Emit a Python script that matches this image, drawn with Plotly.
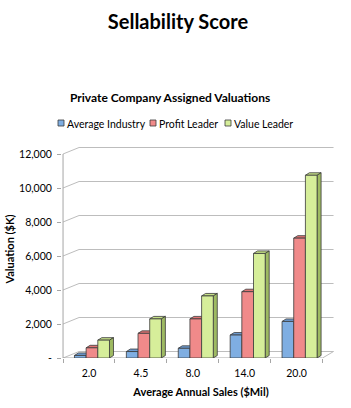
import plotly.graph_objects as go

# ---------------- data ----------------
categories = ["2.0", "4.5", "8.0", "14.0", "20.0"]
average_industry = [150, 380, 570, 1350, 2150]
profit_leader = [600, 1450, 2300, 3900, 7050]
value_leader = [1050, 2300, 3650, 6150, 10750]
y_tick_values = [0, 2000, 4000, 6000, 8000, 10000, 12000]
y_tick_labels = ["-", "2,000", "4,000", "6,000", "8,000", "10,000", "12,000"]
series_names = ["Average Industry", "Profit Leader", "Value Leader"]

# ---------------- styles ----------------
FONT = "Lato"
front_colors = ["#7FAEE2", "#F08A8A", "#D6EE9A"]
top_colors = ["#6E9DD3", "#E07474", "#C4DE86"]
side_colors = ["#5580B8", "#C45A5A", "#9EBA62"]
OUTLINE = "#3A3A3A"
GRID = "#BDBDBD"

W, H = 351, 408
M_L, M_R, M_T, M_B = 62, 11, 140, 50
plot_w = W - M_L - M_R
plot_h = H - M_T - M_B
PX_PER_CAT = 51.9
X_MIN = -0.52
X_MAX = X_MIN + plot_w / PX_PER_CAT
PX_PER_VAL = 0.017
Y_MAX = plot_h / PX_PER_VAL

BAR_W = 0.225
offsets = [-0.28, -0.055, 0.17]
SIDE_DX = 4 / PX_PER_CAT
SIDE_DY = 2.5 / PX_PER_VAL
WALL_DX = 16 / PX_PER_CAT
WALL_DY = 6.5 / PX_PER_VAL
X_LEFT = -0.5
X_RIGHT = 4.5
X_RIGHT_BACK = X_RIGHT + 11 / PX_PER_CAT

# legend geometry (pixels in the page)
legend_y_px = 123
legend_sym_x_px = [58, 150, 225]
legend_sym_size = 6


def px_to_paper_x(px):
    return (px - M_L) / plot_w


def px_to_paper_y(py):
    return 1 - (py - M_T) / plot_h


fig = go.Figure()
all_series = [average_industry, profit_leader, value_leader]
for k, (name, vals) in enumerate(zip(series_names, all_series)):
    fig.add_trace(go.Bar(
        name=name, x=categories, y=vals,
        width=BAR_W, offset=offsets[k], showlegend=False,
        marker=dict(color=front_colors[k], line=dict(color=OUTLINE, width=0.8)),
        hovertemplate="%{x}: %{y:,}<extra>" + name + "</extra>",
    ))

shapes = []
for v in y_tick_values:
    shapes.append(dict(
        type="path", layer="below",
        path=f"M {X_LEFT},{v} L {X_LEFT + WALL_DX},{v + WALL_DY} L {X_RIGHT_BACK},{v + WALL_DY}",
        line=dict(color=GRID, width=1),
    ))
shapes.append(dict(
    type="path", layer="below",
    path=f"M {X_RIGHT},0 L {X_RIGHT_BACK},{WALL_DY}",
    line=dict(color=GRID, width=1),
))
shapes.append(dict(type="line", layer="below", x0=X_LEFT, x1=X_LEFT, y0=0,
                   y1=y_tick_values[-1], line=dict(color="#A6A6A6", width=1)))
shapes.append(dict(type="line", layer="below", x0=X_LEFT, x1=X_RIGHT, y0=0, y1=0,
                   line=dict(color="#A6A6A6", width=1)))

for k, vals in enumerate(all_series):
    for i, v in enumerate(vals):
        xl = i + offsets[k]
        xr = xl + BAR_W
        shapes.append(dict(
            type="path", layer="below",
            path=(f"M {xl},{v} L {xr},{v} L {xr + SIDE_DX},{v + SIDE_DY} "
                  f"L {xl + SIDE_DX},{v + SIDE_DY} Z"),
            fillcolor=top_colors[k], line=dict(color=OUTLINE, width=0.8),
        ))
        if k == len(all_series) - 1:
            shapes.append(dict(
                type="path", layer="below",
                path=(f"M {xr},0 L {xr},{v} L {xr + SIDE_DX},{v + SIDE_DY} "
                      f"L {xr + SIDE_DX},{SIDE_DY} Z"),
                fillcolor=side_colors[k], line=dict(color=OUTLINE, width=0.8),
            ))

annotations = [dict(
    text="<b>Private Company Assigned Valuations</b>", showarrow=False,
    xref="paper", yref="paper",
    x=px_to_paper_x(170), y=px_to_paper_y(97),
    xanchor="center", yanchor="middle",
    font=dict(family=FONT, size=12, color="#000000"),
)]

for k, name in enumerate(series_names):
    sx = legend_sym_x_px[k]
    shapes.append(dict(
        type="rect", xref="paper", yref="paper",
        x0=px_to_paper_x(sx), x1=px_to_paper_x(sx + legend_sym_size),
        y0=px_to_paper_y(legend_y_px + legend_sym_size / 2),
        y1=px_to_paper_y(legend_y_px - legend_sym_size / 2),
        fillcolor=front_colors[k], line=dict(color=OUTLINE, width=0.8),
    ))
    annotations.append(dict(
        text=name, showarrow=False, xref="paper", yref="paper",
        x=px_to_paper_x(sx + legend_sym_size + 1), y=px_to_paper_y(legend_y_px + 1),
        xanchor="left", yanchor="middle",
        font=dict(family=FONT, size=10.5, color="#000000"),
    ))

fig.update_layout(
    width=W, height=H,
    margin=dict(l=M_L, r=M_R, t=M_T, b=M_B, pad=0, autoexpand=False),
    paper_bgcolor="white", plot_bgcolor="white",
    font=dict(family=FONT, size=11, color="#000000"),
    barmode="overlay", showlegend=False,
    title=dict(text="<b>Sellability Score</b>", x=0.507, xanchor="center",
               y=1 - 22 / H, yanchor="middle", yref="container",
               font=dict(family=FONT, size=20, color="#000000")),
    annotations=annotations,
    shapes=shapes,
    xaxis=dict(
        type="category", range=[X_MIN, X_MAX], tickson="boundaries",
        ticks="outside", ticklen=4, tickcolor="#A6A6A6", showgrid=False,
        showline=False, zeroline=False, tickfont=dict(size=10.5),
        ticklabelstandoff=7,
        title=dict(text="<b>Average Annual Sales ($Mil)</b>", standoff=10,
                   font=dict(size=11)),
        fixedrange=True,
    ),
    yaxis=dict(
        range=[0, Y_MAX], tickvals=y_tick_values, ticktext=y_tick_labels,
        ticks="outside", ticklen=4, tickcolor="#A6A6A6", showgrid=False,
        showline=False, zeroline=False, tickfont=dict(size=10.5),
        ticklabelstandoff=3,
        title=dict(text="<b>Valuation ($K)</b>", standoff=2, font=dict(size=11)),
        fixedrange=True,
    ),
)

fig.write_html("out.html", config={"displayModeBar": False})
